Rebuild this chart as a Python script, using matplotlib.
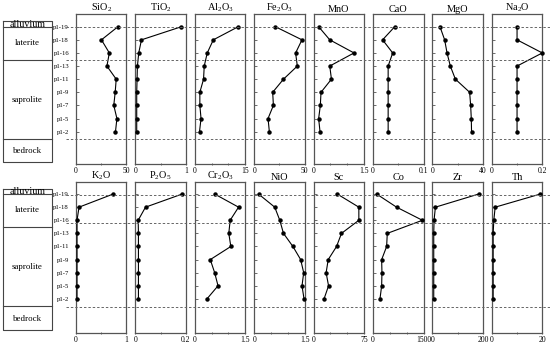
import matplotlib
matplotlib.use("Agg")
import matplotlib.pyplot as plt
from matplotlib.lines import Line2D
import matplotlib.transforms as mtransforms

plt.rcParams['font.family'] = ['Liberation Serif', 'DejaVu Serif']
plt.rcParams['mathtext.fontset'] = 'custom'
plt.rcParams['mathtext.rm'] = 'Liberation Serif'
plt.rcParams['mathtext.it'] = 'Liberation Serif:italic'

# ---------------- data ----------------
samples = ["p1-19", "p1-18", "p1-16", "p1-13", "p1-11", "p1-9", "p1-7", "p1-5", "p1-2"]
layers = ["alluvium", "laterite", "saprolite", "bedrock"]

SiO2 = [41.5, 25.2, 33.0, 30.6, 39.8, 38.8, 37.4, 40.5, 39.1]
TiO2 = [0.91, 0.12, 0.066, 0.04, 0.033, 0.026, 0.026, 0.026, 0.026]
Al2O3 = [12.9, 5.5, 3.7, 2.8, 2.6, 1.5, 1.5, 1.85, 1.4]
Fe2O3 = [21.0, 47.3, 41.0, 42.7, 29.0, 18.3, 19.0, 13.7, 15.0]
MnO = [0.15, 0.48, 1.2, 0.48, 0.53, 0.22, 0.2, 0.15, 0.19]
CaO = [0.043, 0.019, 0.039, 0.030, 0.030, 0.030, 0.030, 0.030, 0.030]
MgO = [6.0, 9.7, 11.6, 14.2, 18.2, 29.5, 30.3, 30.8, 31.0]
Na2O = [0.10, 0.10, 0.20, 0.10, 0.10, 0.10, 0.10, 0.10, 0.10]

K2O = [0.735, 0.06, 0.02, 0.02, 0.02, 0.02, 0.02, 0.02, 0.02]
P2O5 = [0.185, 0.04, 0.011, 0.012, 0.012, 0.012, 0.012, 0.012, 0.012]
Cr2O3 = [0.59, 1.30, 1.05, 1.01, 1.07, 0.46, 0.59, 0.69, 0.36]
NiO = [0.13, 0.61, 0.76, 0.87, 1.15, 1.38, 1.47, 1.42, 1.48]
Sc = [35.2, 67.2, 67.2, 41.4, 34.1, 21.7, 18.6, 22.2, 15.5]
Co = [108, 700, 1467, 424, 405, 257, 266, 257, 207]
Zr = [183, 11.8, 6.6, 5.3, 5.3, 5.3, 5.3, 5.3, 5.3]
Th = [19.2, 1.33, 0.8, 0.53, 0.53, 0.53, 0.53, 0.53, 0.53]

top_titles = ["SiO$_2$", "TiO$_2$", "Al$_2$O$_3$", "Fe$_2$O$_3$", "MnO", "CaO", "MgO", "Na$_2$O"]
top_values = [SiO2, TiO2, Al2O3, Fe2O3, MnO, CaO, MgO, Na2O]
top_max = [50, 1, 15, 50, 1.5, 0.1, 40, 0.2]
top_max_lbl = ["50", "1", "15", "50", "1.5", "0.1", "40", "0.2"]
top_minor = [[25], [0.5], [5, 10], [25], [0.5, 1.0], [0.05], [20], [0.1]]

bot_titles = ["K$_2$O", "P$_2$O$_5$", "Cr$_2$O$_3$", "NiO", "Sc", "Co", "Zr", "Th"]
bot_values = [K2O, P2O5, Cr2O3, NiO, Sc, Co, Zr, Th]
bot_max = [1, 0.2, 1.5, 1.5, 75, 1500, 200, 20]
bot_max_lbl = ["1", "0.2", "1.5", "1.5", "75", "1500", "200", "20"]
bot_minor = [[0.5], [0.1], [0.5, 1.0], [0.5, 1.0], [25, 50], [500, 1000], [100], [10]]

# ---------------- layout ----------------
W, H = 550, 345
fig = plt.figure(figsize=(W / 100, H / 100), dpi=100)
spine_col = "#555555"

def fx(px):
    return px / W

def fy(py_top, py_bot):
    return (H - py_bot) / H, (py_bot - py_top) / H

rows = [
    dict(titles=top_titles, values=top_values, xmax=top_max, lbl=top_max_lbl, minor=top_minor,
         ytop=14, ybot=164, ylim=(10.47, -0.97), dashes=[0.05, 2.55, 8.6]),
    dict(titles=bot_titles, values=bot_values, xmax=bot_max, lbl=bot_max_lbl, minor=bot_minor,
         ytop=182, ybot=333, ylim=(10.6, -0.92), dashes=[0.08, 2.2, 8.6]),
]

ypos = list(range(len(samples)))

for row in rows:
    b, h = fy(row["ytop"], row["ybot"])
    first_ax = None
    for i in range(8):
        left = 76 + i * 59.4
        ax = fig.add_axes([fx(left), b, fx(50.5), h])
        ax.patch.set_alpha(0)
        if first_ax is None:
            first_ax = ax
        ax.plot(row["values"][i], ypos, color="black", lw=0.8, marker="o", ms=2.2,
                clip_on=False, zorder=3)
        ax.set_xlim(0, row["xmax"][i])
        ax.set_ylim(*row["ylim"])
        ax.set_xticks([0, row["xmax"][i]])
        ax.set_xticklabels(["0", row["lbl"][i]])
        ax.set_xticks(row["minor"][i], minor=True)
        ax.tick_params(axis="x", which="both", direction="inout", length=2, width=0.6,
                       color=spine_col, labelsize=5.5, pad=1.5)
        ax.set_yticks(ypos)
        if i == 0:
            ax.set_yticklabels(samples)
        else:
            ax.set_yticklabels([])
        ax.tick_params(axis="y", direction="in", length=2, width=0.6, color=spine_col,
                       labelsize=4.8, pad=5)
        for s in ax.spines.values():
            s.set_color(spine_col)
            s.set_linewidth(0.9)
        ax.set_title(row["titles"][i], fontsize=7.4, pad=1.5)

    # dashed horizontal boundaries across all panels
    trans = mtransforms.blended_transform_factory(fig.transFigure, first_ax.transData)
    for yd in row["dashes"]:
        fig.add_artist(Line2D([fx(66), fx(550)], [yd, yd], transform=trans,
                              color="#666666", lw=0.7, ls=(0, (2.5, 2)), zorder=10))

    # lithology column
    lax = fig.add_axes([fx(3), b, fx(49), h])
    lax.set_xlim(0, 1)
    lax.set_ylim(*row["ylim"])
    lax.axis("off")
    bounds = [-0.41, 0.02, 2.53, 8.56, 10.35]
    lc = "#444444"
    lax.plot([0, 1, 1, 0, 0], [bounds[0], bounds[0], bounds[-1], bounds[-1], bounds[0]],
             color=lc, lw=0.8, clip_on=False)
    for yb in bounds[1:-1]:
        lax.plot([0, 1], [yb, yb], color=lc, lw=0.8, clip_on=False)
    label_y = [-0.18, 1.25, 5.6, 9.5]
    sizes = [7.2, 6.4, 6.4, 6.4]
    for name, yl, sz in zip(layers, label_y, sizes):
        lax.text(0.5, yl, name, ha="center", va="center", fontsize=sz)

fig.savefig("out.png", dpi=100)
